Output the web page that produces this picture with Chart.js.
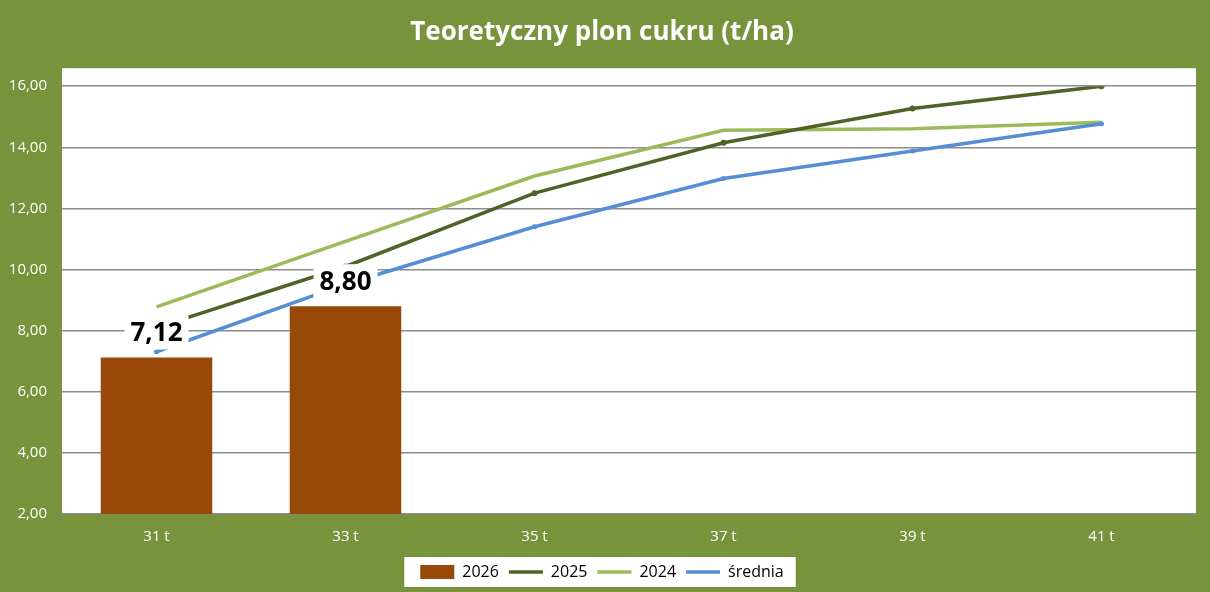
<!DOCTYPE html>
<html lang="pl">

<head>
    <meta charset="UTF-8">
    <title>Teoretyczny plon cukru (t/ha)</title>
    <script src="https://cdn.jsdelivr.net/npm/chart.js"></script>
    <style>
        html, body { margin: 0; padding: 0; background: #77933C; }
        #wrap { width: 1210px; height: 592px; }
    </style>
</head>

<body>
    <div id="wrap"><canvas id="myChart" width="1210" height="592"></canvas></div>
    <script>
        // dane
        const categories = ['31 t', '33 t', '35 t', '37 t', '39 t', '41 t'];
        const y2026 = [7.12, 8.80, null, null, null, null];
        const y2025 = [8.10, 10.10, 12.50, 14.15, 15.27, 16.00];
        const y2024 = [8.78, 10.92, 13.06, 14.56, 14.61, 14.82];
        const srednia = [7.31, 9.52, 11.40, 12.98, 13.88, 14.77];

        const fmt = v => v.toFixed(2).replace('.', ',');
        const FONT = "'Open Sans', 'Liberation Sans', sans-serif";

        // tło: zielone płótno, biały obszar wykresu, biała ramka legendy
        const backgrounds = {
            id: 'backgrounds',
            beforeDraw(chart) {
                const c = chart.ctx;
                const a = chart.chartArea;
                c.save();
                c.fillStyle = '#77933C';
                c.fillRect(0, 0, chart.width, chart.height);
                c.fillStyle = '#ffffff';
                c.fillRect(a.left, a.top - 18, a.right - a.left, a.bottom - a.top + 18);
                const boxes = chart.legend.legendHitBoxes;
                if (boxes && boxes.length) {
                    const l = Math.min(...boxes.map(b => b.left));
                    const r = Math.max(...boxes.map(b => b.left + b.width));
                    const t = Math.min(...boxes.map(b => b.top));
                    const h = Math.max(...boxes.map(b => b.height));
                    c.fillRect(l - 16, t - 7, r - l + 28, h + 14);
                }
                c.restore();
            }
        };

        // etykiety wartości nad słupkami
        const barLabels = {
            id: 'barLabels',
            afterDatasetsDraw(chart) {
                const c = chart.ctx;
                const meta = chart.getDatasetMeta(0);
                const ys = chart.scales.y;
                c.save();
                c.font = "bold 26px " + FONT;
                c.textAlign = 'center';
                c.textBaseline = 'middle';
                y2026.forEach((v, i) => {
                    if (v == null) return;
                    const x = meta.data[i].x;
                    const y = ys.getPixelForValue(v) - 25;
                    const txt = fmt(v);
                    const w = c.measureText(txt).width;
                    c.fillStyle = '#ffffff';
                    c.fillRect(x - w / 2 - 6, y - 17, w + 12, 34);
                    c.fillStyle = '#000000';
                    c.fillText(txt, x, y + 1);
                });
                c.restore();
            }
        };

        const ctx = document.getElementById('myChart').getContext('2d');
        const chart = new Chart(ctx, {
            data: {
                labels: categories,
                datasets: [
                    {
                        type: 'bar',
                        label: '2026',
                        data: y2026,
                        backgroundColor: '#984807',
                        borderWidth: 0,
                        categoryPercentage: 1,
                        barPercentage: 0.59,
                        order: 4
                    },
                    {
                        type: 'line',
                        label: '2025',
                        data: y2025,
                        borderColor: '#4F6228',
                        backgroundColor: '#4F6228',
                        borderWidth: 3.5,
                        pointRadius: 3,
                        pointBorderWidth: 0,
                        order: 2
                    },
                    {
                        type: 'line',
                        label: '2024',
                        data: y2024,
                        borderColor: '#9BBB59',
                        backgroundColor: '#9BBB59',
                        borderWidth: 3.5,
                        pointRadius: 0,
                        order: 3
                    },
                    {
                        type: 'line',
                        label: 'średnia',
                        data: srednia,
                        borderColor: '#558ED5',
                        backgroundColor: '#558ED5',
                        borderWidth: 3.5,
                        pointRadius: 2.5,
                        pointBorderWidth: 0,
                        order: 1
                    }
                ]
            },
            options: {
                responsive: false,
                animation: false,
                layout: { padding: { left: 8, right: 14, top: 0, bottom: 2 } },
                plugins: {
                    title: {
                        display: true,
                        text: 'Teoretyczny plon cukru (t/ha)',
                        color: '#ffffff',
                        font: { family: FONT, size: 26, weight: 'bold' },
                        padding: { top: 17, bottom: 38 }
                    },
                    legend: {
                        position: 'bottom',
                        labels: {
                            color: '#000000',
                            font: { family: FONT, size: 16 },
                            usePointStyle: true,
                            pointStyleWidth: 34,
                            boxHeight: 14,
                            padding: 10,
                            generateLabels(chart) {
                                return chart.data.datasets.map((d, i) => ({
                                    text: d.label,
                                    fillStyle: d.backgroundColor,
                                    strokeStyle: d.type === 'bar' ? d.backgroundColor : d.borderColor,
                                    lineWidth: d.type === 'bar' ? 0 : 3.5,
                                    pointStyle: d.type === 'bar' ? 'rect' : 'line',
                                    fontColor: '#000000',
                                    hidden: false,
                                    datasetIndex: i
                                }));
                            }
                        }
                    },
                    tooltip: { enabled: false }
                },
                scales: {
                    x: {
                        offset: true,
                        grid: { display: false, drawTicks: false },
                        border: { display: false },
                        ticks: { color: '#ffffff', font: { family: FONT, size: 15 }, padding: 14 },
                        afterFit(scale) { scale.height = 40; }
                    },
                    y: {
                        min: 2,
                        max: 16,
                        ticks: {
                            stepSize: 2,
                            color: '#ffffff',
                            font: { family: FONT, size: 15 },
                            padding: 15,
                            callback: v => fmt(v)
                        },
                        grid: { color: '#8c8c8c', lineWidth: 1.5, drawTicks: false },
                        border: { display: false },
                        afterFit(scale) { scale.width = 54; }
                    }
                }
            },
            plugins: [backgrounds, barLabels]
        });
    </script>
</body>

</html>
